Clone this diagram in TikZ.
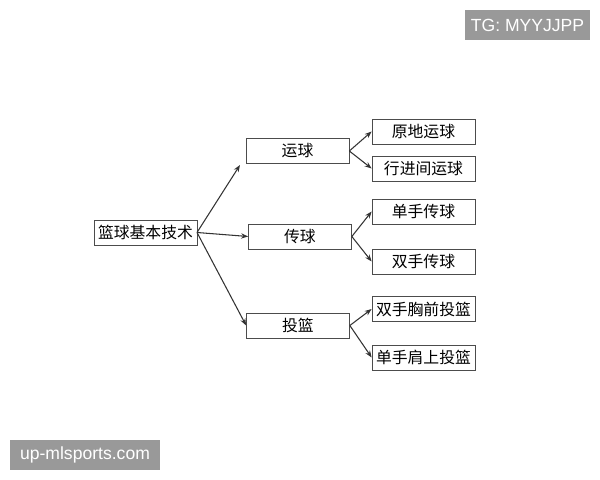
\documentclass[tikz,border=0pt]{standalone}
\usepackage{fontspec}
\setmainfont{Liberation Serif}
\newfontfamily\cjk{Noto Sans CJK SC}
\newfontfamily\wmfont{Liberation Sans}
\usetikzlibrary{positioning,arrows.meta}

\tikzset{
  item/.style={draw=black!70, thin, minimum width=2.06cm, minimum height=0.5cm,
               inner sep=0pt, font=\cjk\small},
  link/.style={-{Stealth[length=4pt,width=3pt]}, black!80, semithick},
  wmark/.style={fill=black!40, text=white, inner sep=0pt, font=\wmfont\normalsize}
}

\begin{document}
\begin{tikzpicture}[x=0.02cm,y=-0.02cm]
 \useasboundingbox (0,0) rectangle (600,480);

 \node[item] (root) at (145.5,232.5) {篮球基本技术};

 \node[item] (dribble) at (297.5,151) {运球};
 \node[item] (pass)    at (300,236.5) {传球};
 \node[item] (shoot)   at (298,325.5) {投篮};

 \node[item] (d1) at (423.5,131.5) {原地运球};
 \node[item] (d2) at (423.5,168.5) {行进间运球};
 \node[item] (p1) at (423.5,211.5) {单手传球};
 \node[item] (p2) at (423.5,261.5) {双手传球};
 \node[item] (s1) at (423.5,309) {双手胸前投篮};
 \node[item] (s2) at (423.5,357.5) {单手肩上投篮};

 % main branches
 \coordinate (rootout) at (197,232.5);
 \draw[link] (rootout) -- (240,165);
 \draw[link] (rootout) -- (pass.west);
 \draw[link] (rootout) -- (shoot.west);

 % sub branches
 \draw[link] (dribble.east) -- (d1.west);
 \draw[link] (dribble.east) -- (d2.west);
 \draw[link] (pass.east) -- (p1.west);
 \draw[link] (pass.east) -- (p2.west);
 \draw[link] (shoot.east) -- (s1.west);
 \draw[link] (shoot.east) -- (s2.west);

 % watermarks
 \node[wmark, minimum width=2.5cm, minimum height=0.6cm] (tg) at (527.5,25) {TG: MYYJJPP};
 \node[wmark, minimum width=3cm, minimum height=0.6cm] (site) at (85,455) {up-mlsports.com};
\end{tikzpicture}
\end{document}
